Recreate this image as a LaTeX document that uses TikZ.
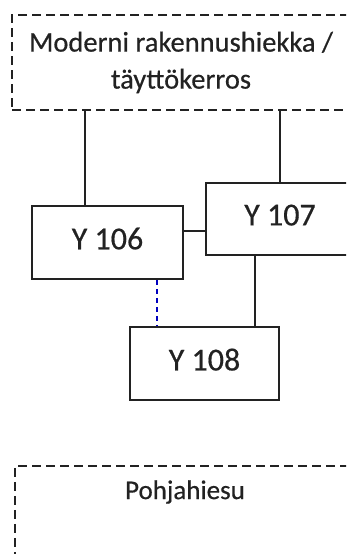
\documentclass[tikz,border=0pt]{standalone}
\usepackage{fontspec}
\setmainfont{Carlito}[FakeBold=0.5]
\definecolor{inkgray}{HTML}{222222}
\begin{document}
\begin{tikzpicture}[x=1pt, y=1pt,
  layerbox/.style={draw=inkgray, line width=1.8pt, dash pattern=on 9pt off 5pt, inner sep=0pt},
  unitbox/.style={draw=inkgray, line width=1.8pt, inner sep=0pt, text depth=8pt, font=\fontsize{32}{38}\selectfont, text=inkgray},
  link/.style={draw=inkgray, line width=1.8pt},
  maybe/.style={draw=blue!75!black, line width=1.3pt, dash pattern=on 5pt off 4pt}]

\clip (0,0) rectangle (346,-554);

\node [layerbox, minimum width=338, minimum height=95, align=center, text=inkgray,
  font=\fontsize{28.5}{37}\selectfont] (fill) at (181,-62.5) {Moderni rakennushiekka /\\ täyttökerros};

\node [unitbox, minimum width=151, minimum height=73] (y106) at (107.5,-242.5) {Y 106};
\node [unitbox, minimum width=148, minimum height=72] (y107) at (280,-219) {Y 107};
\node [unitbox, minimum width=149, minimum height=73] (y108) at (204.5,-363.5) {Y 108};

\node [layerbox, minimum width=342, minimum height=140, anchor=north west] (base) at (14,-465) {};
\node [text=inkgray, font=\fontsize{27}{37}\selectfont] (basetext) at (185,-492) {Pohjahiesu};

\draw [link] (fill.south -| 85,0) -- (y106.north -| 85,0);
\draw [link] (fill.south -| y107.north) -- (y107.north);
\draw [link] (y106.east |- 0,-231) -- (y107.west |- 0,-231);
\draw [link] (y107.south -| 255,0) -- (y108.north -| 255,0);
\draw [maybe] (y106.south -| 157,0) -- (y108.north -| 157,0);

\end{tikzpicture}
\end{document}
